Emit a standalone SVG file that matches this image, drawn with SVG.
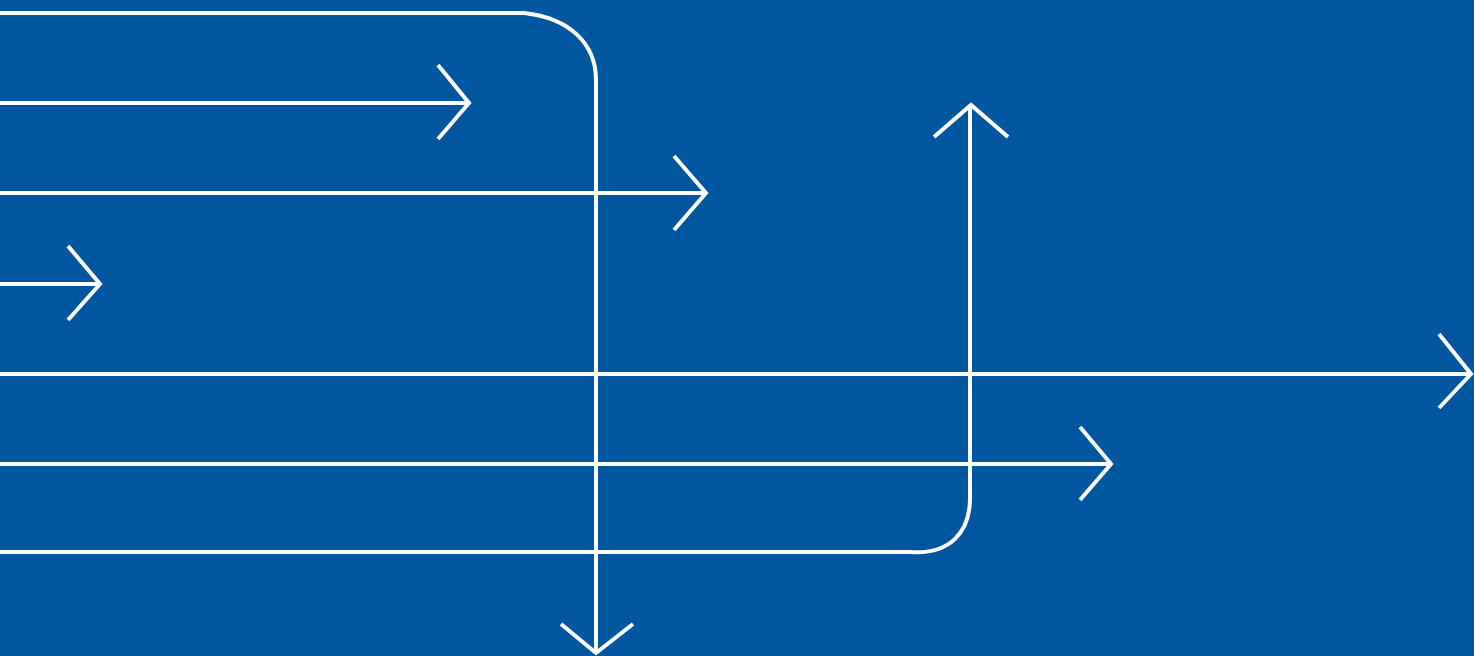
<svg xmlns="http://www.w3.org/2000/svg" width="1474" height="656" viewBox="0 0 1474 656">
<style>
.l{fill:none;stroke:#fff;stroke-width:4;stroke-linejoin:miter;stroke-linecap:butt}
</style>
<rect width="1474" height="656" fill="#01579F"/>
<g id="connectors">
<path class="l" d="M0 13 H524 C570 18 596 44 596 80 V652"/>
<path class="l" d="M561 624 L596 653 L633 624"/>
<path class="l" d="M0 103 H468"/>
<path class="l" d="M438 65 L469 103 L438 139"/>
<path class="l" d="M0 193 H705"/>
<path class="l" d="M674 156 L706 193 L674 230"/>
<path class="l" d="M0 284 H99"/>
<path class="l" d="M68 246 L100 284 L68 320"/>
<path class="l" d="M0 374 H1470"/>
<path class="l" d="M1439 334 L1471 374 L1439 408"/>
<path class="l" d="M0 464 H1110"/>
<path class="l" d="M1080 427 L1111 464 L1080 500"/>
<path class="l" d="M0 552 H910 C950 555 970 532 970 498 V107"/>
<path class="l" d="M934 137 L971 105 L1008 137"/>
</g>
</svg>
